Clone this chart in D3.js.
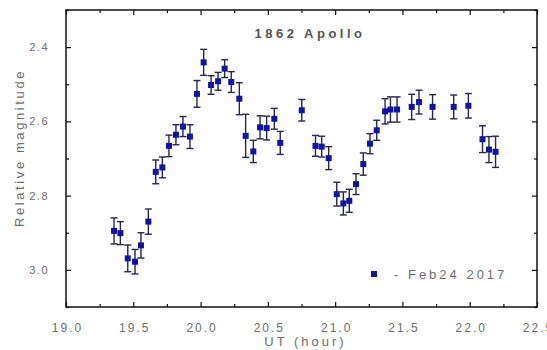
<!DOCTYPE html>
<html>
<head>
<meta charset="utf-8">
<script src="https://cdn.jsdelivr.net/npm/d3@7"></script>
<style>
  html, body { margin: 0; padding: 0; background: #fff; }
  svg { display: block; font-family: Arial, "Liberation Sans", sans-serif; }
</style>
</head>
<body>
<svg id="chart" width="547" height="350"></svg>
<script>
// ---- Data ----
const title = "1862 Apollo";
const seriesName = "- Feb24 2017";
const utHours = [
  19.357, 19.404, 19.459, 19.513, 19.557, 19.612, 19.667, 19.716, 19.765, 19.817,
  19.869, 19.921, 19.973, 20.023, 20.078, 20.130, 20.179, 20.228, 20.288, 20.335,
  20.392, 20.442, 20.491, 20.548, 20.592, 20.752, 20.854, 20.900, 20.952, 21.012,
  21.061, 21.105, 21.155, 21.209, 21.259, 21.309, 21.371, 21.411, 21.460, 21.569,
  21.623, 21.724, 21.881, 21.990, 22.095, 22.143, 22.192
];
const relMag = [
  2.895, 2.901, 2.969, 2.978, 2.934, 2.870, 2.736, 2.724, 2.666, 2.636,
  2.614, 2.641, 2.526, 2.441, 2.502, 2.492, 2.458, 2.494, 2.539, 2.639,
  2.681, 2.616, 2.618, 2.593, 2.658, 2.570, 2.666, 2.668, 2.699, 2.796,
  2.821, 2.814, 2.769, 2.715, 2.660, 2.624, 2.573, 2.568, 2.568, 2.561,
  2.548, 2.561, 2.561, 2.558, 2.648, 2.676, 2.682
];
const magErr = [
  0.035, 0.031, 0.036, 0.033, 0.034, 0.034, 0.032, 0.028, 0.029, 0.027,
  0.027, 0.032, 0.036, 0.035, 0.025, 0.024, 0.024, 0.028, 0.043, 0.058,
  0.030, 0.031, 0.032, 0.028, 0.031, 0.029, 0.028, 0.028, 0.031, 0.032,
  0.031, 0.031, 0.028, 0.030, 0.027, 0.027, 0.034, 0.034, 0.034, 0.034,
  0.032, 0.033, 0.032, 0.033, 0.036, 0.035, 0.042
];
const xMajorTicks = [19.0, 19.5, 20.0, 20.5, 21.0, 21.5, 22.0, 22.5];
const xMinorTicks = [19.25, 19.75, 20.25, 20.75, 21.25, 21.75, 22.25];
const yMajorTicks = [2.4, 2.6, 2.8, 3.0];
const yMinorTicks = [2.3, 2.5, 2.7, 2.9, 3.1];
const xDomain = [19.0, 22.5];
const yDomain = [2.3, 3.1];

// ---- Layout ----
const svg = d3.select("#chart");
const L = 66, R = 537, T = 10, B = 307;
const x = d3.scaleLinear().domain(xDomain).range([L, R]);
const y = d3.scaleLinear().domain(yDomain).range([T, B]);

const textGray = "#6e6e6e";
const markColor = "#1212a4";
const barColor = "#26264f";

// Ticks (inward on all four sides)
function drawAxis(axis, transform, cls) {
  const g = svg.append("g").attr("class", cls).attr("transform", transform).call(axis);
  g.select(".domain").remove();
  g.selectAll(".tick line").attr("stroke", "#111").attr("stroke-width", 1.2);
  return g;
}
// bottom major (labels) + minor
const gxb = drawAxis(d3.axisBottom(x).tickValues(xMajorTicks).tickSize(-5).tickPadding(16)
  .tickFormat(d3.format(".1f")), `translate(0,${B})`, "xb");
gxb.selectAll("text").attr("fill", textGray).attr("font-size", 12)
  .attr("letter-spacing", 2).attr("dx", 1);
drawAxis(d3.axisBottom(x).tickValues(xMinorTicks).tickSize(-3).tickFormat(""), `translate(0,${B})`, "xbm");
// top
drawAxis(d3.axisTop(x).tickValues(xMajorTicks).tickSize(-5).tickFormat(""), `translate(0,${T})`, "xt");
drawAxis(d3.axisTop(x).tickValues(xMinorTicks).tickSize(-3).tickFormat(""), `translate(0,${T})`, "xtm");
// left
const gyl = drawAxis(d3.axisLeft(y).tickValues(yMajorTicks).tickSize(-5).tickPadding(17)
  .tickFormat(d3.format(".1f")), `translate(${L},0)`, "yl");
gyl.selectAll("text").attr("fill", textGray).attr("font-size", 11).attr("letter-spacing", 1.5);
drawAxis(d3.axisLeft(y).tickValues(yMinorTicks).tickSize(-3).tickFormat(""), `translate(${L},0)`, "ylm");
// right
drawAxis(d3.axisRight(y).tickValues(yMajorTicks).tickSize(-5).tickFormat(""), `translate(${R},0)`, "yr");
drawAxis(d3.axisRight(y).tickValues(yMinorTicks).tickSize(-3).tickFormat(""), `translate(${R},0)`, "yrm");

// Frame
svg.append("rect").attr("x", L).attr("y", T).attr("width", R - L).attr("height", B - T)
  .attr("fill", "none").attr("stroke", "#111").attr("stroke-width", 1.5);

// Data
const data = utHours.map((t, i) => ({ t, m: relMag[i], e: magErr[i] }));
const cap = 3.5;
const eg = svg.append("g").attr("stroke", barColor).attr("stroke-width", 1.4);
data.forEach(d => {
  const cx = x(d.t), y1 = y(d.m - d.e), y2 = y(d.m + d.e);
  eg.append("line").attr("x1", cx).attr("x2", cx).attr("y1", y1).attr("y2", y2);
  eg.append("line").attr("x1", cx - cap).attr("x2", cx + cap).attr("y1", y1).attr("y2", y1);
  eg.append("line").attr("x1", cx - cap).attr("x2", cx + cap).attr("y1", y2).attr("y2", y2);
});
const ms = 6;
svg.append("g").selectAll("rect").data(data).join("rect")
  .attr("x", d => x(d.t) - ms / 2).attr("y", d => y(d.m) - ms / 2)
  .attr("width", ms).attr("height", ms).attr("fill", markColor);

// Title
svg.append("text").attr("x", 310).attr("y", 38).attr("text-anchor", "middle")
  .attr("font-size", 13).attr("font-weight", "bold").attr("letter-spacing", 3.5)
  .attr("fill", "#555").text(title);

// Legend
svg.append("rect").attr("x", 371).attr("y", 271).attr("width", 6).attr("height", 6).attr("fill", markColor);
svg.append("text").attr("x", 394).attr("y", 279).attr("font-size", 13)
  .attr("letter-spacing", 3).attr("fill", textGray).text(seriesName);

// Axis titles
svg.append("text").attr("x", (L + R) / 2 + 4).attr("y", 346).attr("text-anchor", "middle")
  .attr("font-size", 13).attr("letter-spacing", 3).attr("fill", textGray).text("UT (hour)");
svg.append("text").attr("transform", `translate(24,${148}) rotate(-90)`).attr("text-anchor", "middle")
  .attr("font-size", 13).attr("letter-spacing", 2.6).attr("fill", textGray).text("Relative magnitude");
</script>
</body>
</html>
